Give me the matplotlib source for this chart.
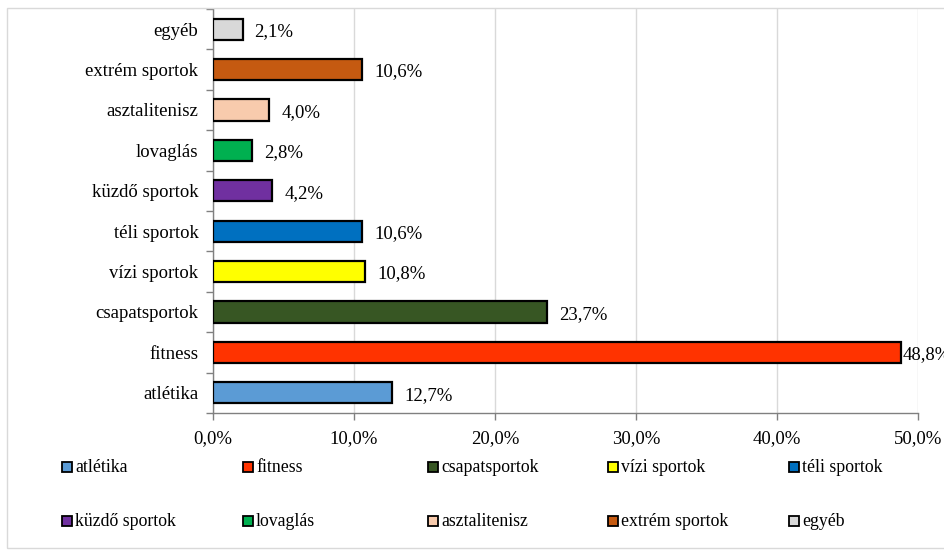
import matplotlib
matplotlib.use("Agg")
import matplotlib.pyplot as plt
from matplotlib.patches import Rectangle

categories = ["atlétika", "fitness", "csapatsportok", "vízi sportok", "téli sportok",
              "küzdő sportok", "lovaglás", "asztalitenisz", "extrém sportok", "egyéb"]
values = [12.7, 48.8, 23.7, 10.8, 10.6, 4.2, 2.8, 4.0, 10.6, 2.1]
labels = ["12,7%", "48,8%", "23,7%", "10,8%", "10,6%", "4,2%", "2,8%", "4,0%", "10,6%", "2,1%"]
colors = ["#5B9BD5", "#FF3300", "#375623", "#FFFF00", "#0070C0",
          "#7030A0", "#00B050", "#F8CBAD", "#C55A11", "#D9D9D9"]
xticks = [0, 10, 20, 30, 40, 50]
xticklabels = ["0,0%", "10,0%", "20,0%", "30,0%", "40,0%", "50,0%"]

plt.rcParams['font.family'] = ['Liberation Serif', 'DejaVu Serif']

W, H = 944, 551
fig = plt.figure(figsize=(W/100, H/100), dpi=100)
fig.patches.append(Rectangle((7/W, 3/H), 1.0, (H-11)/H, transform=fig.transFigure,
                             fill=False, edgecolor="#D9D9D9", linewidth=1.0))

ax = fig.add_axes([213/W, (H-413)/H, (918-213)/W, (413-9)/H])
y = list(range(len(categories)))
ax.barh(y, values, height=0.52, color=colors, edgecolor="black", linewidth=1.6, zorder=3)
xmax = 50
for yi, v, lab in zip(y, values, labels):
    ax.text(min(v + 0.85, xmax - 1.1), yi - 0.06, lab, va="center", ha="left",
            fontsize=13.5, zorder=4, clip_on=False)

ax.set_xlim(0, xmax)
ax.set_ylim(-0.5, len(categories) - 0.5)
ax.set_xticks(xticks)
ax.set_xticklabels(xticklabels, fontsize=13.5)
ax.set_yticks(y)
ax.set_yticklabels(categories, fontsize=13.5)
ax.set_yticks([i - 0.5 for i in range(len(categories) + 1)], minor=True)
ax.tick_params(axis="y", which="major", length=0, pad=10.5)
ax.tick_params(axis="y", which="minor", length=5, color="#808080", width=1)
ax.tick_params(axis="x", which="major", length=5, color="#808080", width=1, pad=7)
ax.grid(axis="x", color="#D9D9D9", linewidth=1, zorder=0)
for s in ["top", "right"]:
    ax.spines[s].set_visible(False)
for s in ["left", "bottom"]:
    ax.spines[s].set_color("#808080")
    ax.spines[s].set_linewidth(1)

# legend laid out in two rows of five, row-major like the reference
col_x = [62, 243, 428, 608, 789]
row_y = [467, 521]
for i, (cat, col) in enumerate(zip(categories, colors)):
    px = col_x[i % 5]
    py = row_y[i // 5]
    fig.patches.append(Rectangle((px/W, (H - py - 5)/H), 10/W, 10/H,
                                 transform=fig.transFigure, facecolor=col,
                                 edgecolor="black", linewidth=1.3))
    fig.text((px + 13)/W, (H - py)/H, cat, ha="left", va="center", fontsize=12.8)

fig.savefig("out.png", dpi=100)
